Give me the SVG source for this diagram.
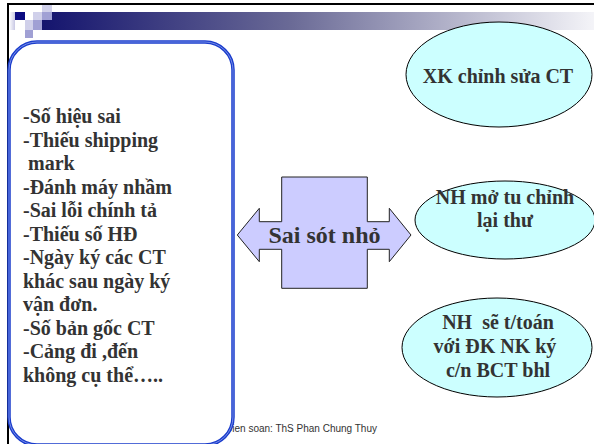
<svg xmlns="http://www.w3.org/2000/svg" width="594" height="444" viewBox="0 0 594 444">
  <defs>
    <linearGradient id="bar" x1="0" y1="0" x2="1" y2="0">
      <stop offset="0" stop-color="#14146e"/>
      <stop offset="0.45" stop-color="#6a6a96"/>
      <stop offset="1" stop-color="#f4f4f8"/>
    </linearGradient>
    <linearGradient id="barLeft" x1="0" y1="0" x2="1" y2="0">
      <stop offset="0" stop-color="#ffffff"/>
      <stop offset="1" stop-color="#c8c8e4"/>
    </linearGradient>
    <style>
      .item { font-family: "Liberation Serif", "Times New Roman", serif; font-weight: bold; font-size: 20px; fill: #333333; }
      .bubble { fill: #ccffff; stroke: #000000; stroke-width: 1; }
      .bubble-text { font-family: "Liberation Serif", "Times New Roman", serif; font-weight: bold; font-size: 20px; fill: #333333; text-anchor: middle; }
      .footer { font-family: "Liberation Sans", Arial, sans-serif; font-size: 10px; fill: #333333; }
    </style>
  </defs>

  <!-- slide background and frame -->
  <rect x="0" y="0" width="594" height="444" fill="#ffffff"/>
  <line x1="7" y1="4" x2="594" y2="4" stroke="#000000" stroke-width="2"/>
  <line x1="8" y1="3" x2="8" y2="444" stroke="#000000" stroke-width="2"/>

  <!-- title bar decoration -->
  <g id="header">
    <rect x="9" y="12" width="6" height="18" fill="url(#barLeft)"/>
    <rect x="42" y="12" width="552" height="18" fill="url(#bar)"/>
    <rect x="15" y="12" width="10" height="8" fill="#0a0a80"/>
    <rect x="33" y="12" width="9" height="8" fill="#d0d0ea"/>
    <rect x="42" y="5" width="10" height="7" fill="#d0d0ea"/>
    <rect x="42" y="12" width="10" height="8" fill="#a0a0d4"/>
    <rect x="25" y="20" width="8" height="10" fill="#d0d0ea"/>
    <rect x="33" y="20" width="9" height="10" fill="#a0a0d4"/>
    <rect x="25" y="30" width="8" height="8" fill="#a0a0d4"/>
  </g>

  <!-- footer credit (partly covered by the list box) -->
  <text class="footer" x="377" y="432" text-anchor="end">Bien soan: ThS Phan Chung Thuy</text>

  <!-- list of minor errors -->
  <g id="error-list">
    <rect x="9" y="42" width="224" height="403" rx="28" ry="28" fill="#ffffff" stroke="#1a3ccc" stroke-width="3.5"/>
    <rect x="9" y="42" width="224" height="403" rx="28" ry="28" fill="none" stroke="#8ea2ee" stroke-width="0.8"/>
    <text class="item" x="23" y="123">-Số hiệu sai</text>
    <text class="item" x="23" y="146.5">-Thiếu shipping</text>
    <text class="item" x="28" y="170">mark</text>
    <text class="item" x="23" y="193.5">-Đánh máy nhầm</text>
    <text class="item" x="23" y="217">-Sai lỗi chính tả</text>
    <text class="item" x="23" y="240.5">-Thiếu số HĐ</text>
    <text class="item" x="23" y="264">-Ngày ký các CT</text>
    <text class="item" x="23" y="287.5">khác sau ngày ký</text>
    <text class="item" x="23" y="311">vận đơn.</text>
    <text class="item" x="23" y="334.5">-Số bản gốc CT</text>
    <text class="item" x="23" y="358">-Cảng đi ,đến</text>
    <text class="item" x="23" y="381.5">không cụ thể…..</text>
  </g>

  <!-- central left-right arrow callout -->
  <g id="minor-errors">
    <path d="M281.7 177 H367.3 V221.7 H389.3 V208.3 L411 235 L389.3 261.7 V249.3 H367.3 V288.3 H281.7 V249.3 H259.3 V261.7 L237.3 235 L259.3 208.3 V221.7 H281.7 Z" fill="#ccccff" stroke="#222222" stroke-width="1"/>
    <text x="324.5" y="243" text-anchor="middle" font-family="Liberation Serif, Times New Roman, serif" font-weight="bold" font-size="24" fill="#333333">Sai sót nhỏ</text>
  </g>

  <!-- outcome bubbles -->
  <g id="exporter-fix">
    <ellipse class="bubble" cx="499" cy="74.5" rx="93" ry="52.5"/>
    <text class="bubble-text" x="498" y="83">XK chỉnh sửa CT</text>
  </g>

  <g id="bank-amend">
    <ellipse class="bubble" cx="505" cy="220" rx="90" ry="39"/>
    <text class="bubble-text" x="505" y="204">NH mở tu chỉnh</text>
    <text class="bubble-text" x="505" y="226.5">lại thư</text>
  </g>

  <g id="bank-pay">
    <ellipse class="bubble" cx="497" cy="347.5" rx="95" ry="49.5"/>
    <text class="bubble-text" x="498" y="329" xml:space="preserve">NH  sẽ t/toán</text>
    <text class="bubble-text" x="495" y="353">với ĐK NK ký</text>
    <text class="bubble-text" x="498" y="377">c/n BCT bhl</text>
  </g>
</svg>
